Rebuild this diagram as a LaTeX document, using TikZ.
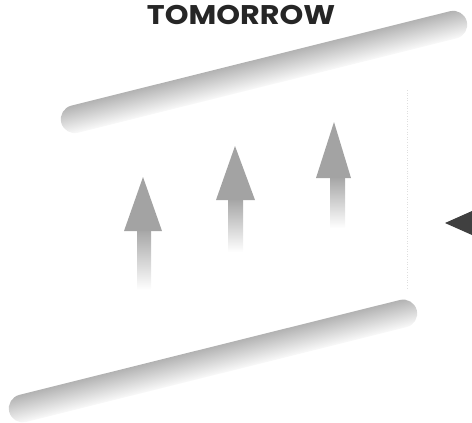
\documentclass[tikz,border=0pt]{standalone}
\usepackage{fontspec}
\setmainfont{Poppins}
\definecolor{bardark}{gray}{0.70}
\definecolor{barmid}{gray}{0.76}
\definecolor{barlight}{gray}{0.98}
\definecolor{arrowgray}{gray}{0.64}
\definecolor{tipdark}{gray}{0.25}
\tikzset{
  barshade/.style={rounded corners=14pt, top color=bardark, middle color=barmid, bottom color=barlight},
  headfill/.style={fill=arrowgray},
  shaftshade/.style={top color=arrowgray, bottom color=white},
}
\begin{document}
\begin{tikzpicture}[x=1pt,y=-1pt]
\useasboundingbox (0,0) rectangle (472,423);
% title
\node[font=\bfseries\fontsize{27}{31}\selectfont, text=black!85, inner sep=0pt, xscale=1.12] (title) at (241,15) {TOMORROW};
% faint dotted guide
\draw[gray!25, dotted, line width=0.6pt] (407,90) -- (407,290);
% top bar
\begin{scope}[transform canvas={shift={(264,72)}, rotate=14}]
  \shade[barshade] (-209,-14) rectangle (209,14);
\end{scope}
% bottom bar
\begin{scope}[transform canvas={shift={(213,361)}, rotate=14}]
  \shade[barshade] (-210,-14) rectangle (210,14);
\end{scope}
% arrow 1
\shade[shaftshade] (137,228) rectangle (151,290);
\fill[headfill] (143,177) -- (162,231) -- (124,231) -- cycle;
% arrow 2
\shade[shaftshade] (228,198) rectangle (243,252);
\fill[headfill] (235,146) -- (255,200) -- (216,200) -- cycle;
% arrow 3
\shade[shaftshade] (330,176) rectangle (345,228);
\fill[headfill] (334,122) -- (351,178) -- (316,178) -- cycle;
% dark pointer at right edge
\fill[tipdark] (445,223) -- (472,211) -- (472,235) -- cycle;
\end{tikzpicture}
\end{document}
